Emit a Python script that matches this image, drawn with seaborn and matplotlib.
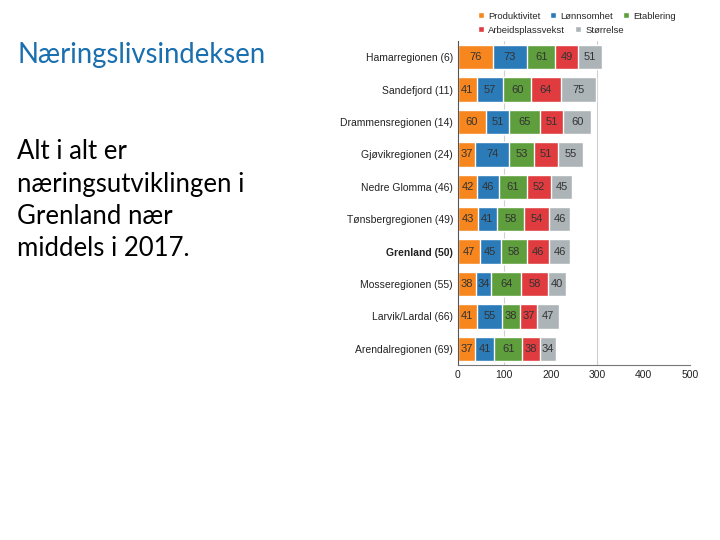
import numpy as np
import pandas as pd
import matplotlib
matplotlib.use("Agg")
import matplotlib.pyplot as plt
import seaborn as sns

sns.set_style("white")
plt.rcParams['font.family'] = ['Liberation Sans', 'DejaVu Sans']

# data
regions = ["Hamarregionen (6)", "Sandefjord (11)", "Drammensregionen (14)",
           "Gjøvikregionen (24)", "Nedre Glomma (46)", "Tønsbergregionen (49)",
           "Grenland (50)", "Mosseregionen (55)", "Larvik/Lardal (66)",
           "Arendalregionen (69)"]
produktivitet = [76, 41, 60, 37, 42, 43, 47, 38, 41, 37]
lonnsomhet = [73, 57, 51, 74, 46, 41, 45, 34, 55, 41]
etablering = [61, 60, 65, 53, 61, 58, 58, 64, 38, 61]
arbeidsplassvekst = [49, 64, 51, 51, 52, 54, 46, 58, 37, 38]
storrelse = [51, 75, 60, 55, 45, 46, 46, 40, 47, 34]

series = ["Produktivitet", "Lønnsomhet", "Etablering", "Arbeidsplassvekst", "Størrelse"]
colors = ["#f7861f", "#2b7bb9", "#5e9e3c", "#e03b3f", "#adb4b8"]

df = pd.DataFrame({"region": regions, "Produktivitet": produktivitet,
                   "Lønnsomhet": lonnsomhet, "Etablering": etablering,
                   "Arbeidsplassvekst": arbeidsplassvekst, "Størrelse": storrelse})
cum = df[series].cumsum(axis=1)

fig = plt.figure(figsize=(7.2, 5.4), dpi=100)
ax = fig.add_axes([0.636, 0.324, 0.322, 0.600])

# draw the stacked bars back to front, longest cumulative first
for s, c in reversed(list(zip(series, colors))):
    sns.barplot(x=cum[s], y=df["region"], color=c, width=0.75,
                saturation=1, orient="h", ax=ax, label=s)

# value labels in the middle of each segment
for s in series:
    mids = cum[s] - df[s] / 2
    for i, (m, v) in enumerate(zip(mids, df[s])):
        ax.text(m, i, str(v), ha="center", va="center", fontsize=8, color="#333333")

ax.set_xlim(0, 500)
ax.set_xticks([0, 100, 200, 300, 400, 500])
ax.grid(axis="x", color="#cfcfcf", linewidth=0.8)
ax.set_axisbelow(True)
gl = ax.get_xgridlines()
for k in (0, 2, 4):
    gl[k].set_visible(False)
gl[5].set_color("#eeeeee")
ax.set_xlabel("")
ax.set_ylabel("")
for sp in ["top", "right"]:
    ax.spines[sp].set_visible(False)
ax.spines["left"].set_color("#555555")
ax.spines["bottom"].set_color("#777777")
ax.tick_params(axis="both", labelsize=7.5, colors="#222222", length=0)
for lab in ax.get_yticklabels():
    if lab.get_text().startswith("Grenland"):
        lab.set_fontweight("bold")

# legend in two flowing rows, like the original
h, l = ax.get_legend_handles_labels()
hd = dict(zip(l, h))
leg_kw = dict(frameon=False, fontsize=6.8, loc="center left", handlelength=0.6,
              handleheight=0.6, handletextpad=0.5, columnspacing=1.0,
              borderaxespad=0, borderpad=0, bbox_transform=fig.transFigure)
row1 = ["Produktivitet", "Lønnsomhet", "Etablering"]
row2 = ["Arbeidsplassvekst", "Størrelse"]
leg1 = ax.legend([hd[o] for o in row1], row1, ncol=3,
                 bbox_to_anchor=(0.664, 0.970), **leg_kw)
ax.add_artist(leg1)
ax.legend([hd[o] for o in row2], row2, ncol=2,
          bbox_to_anchor=(0.664, 0.944), **leg_kw)

fig.text(0.024, 0.898, "Næringslivsindeksen", fontsize=19.8, color="#1a6fae",
         family=["Lato", "DejaVu Sans"], va="center")
fig.text(0.024, 0.742, "Alt i alt er\nnæringsutviklingen i\nGrenland nær\nmiddels i 2017.",
         fontsize=18.5, color="black", family=["Lato", "DejaVu Sans"], va="top",
         linespacing=1.36)

fig.savefig("out.png", dpi=100)
